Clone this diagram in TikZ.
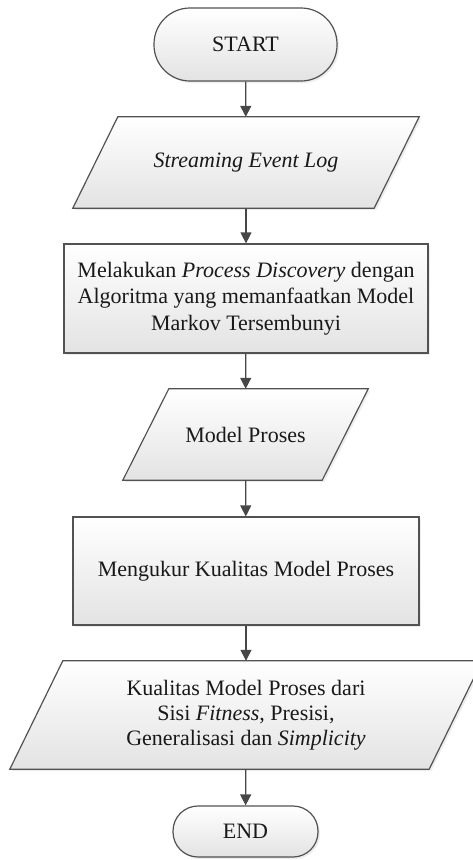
\documentclass[tikz,border=0pt]{standalone}
\usepackage{fontspec}
\setmainfont{Liberation Serif}
\usetikzlibrary{arrows.meta,calc,shadows,backgrounds}

\begin{document}
\begin{tikzpicture}[x=1pt,y=-1pt,
  every node/.style={font=\fontsize{22}{26.5}\selectfont, text=black!90, align=center, inner sep=0pt},
  boxfill/.style={draw=black!68, line width=1.2pt, top color=white, bottom color=black!11,
    drop shadow={opacity=0.14, shadow xshift=2pt, shadow yshift=-2pt}},
  terminal/.style={boxfill, rectangle, rounded corners=#1},
  process/.style={boxfill, rectangle},
  iobox/.style={rectangle},
  flow/.style={draw=black!72, line width=1.3pt, -{Triangle[length=11pt,width=11pt]}}
]
\useasboundingbox (0,0) rectangle (472,860);

% terminals and process boxes
\node[terminal=36pt, minimum width=183pt, minimum height=73pt] (start) at (245.5,44.5) {START};
\node[iobox, minimum width=346pt, minimum height=91pt] (log) at (246,162.5) {\itshape Streaming Event Log};
\node[process, minimum width=364pt, minimum height=109pt] (disc) at (246,298.5)
  {Melakukan \textit{Process Discovery} dengan\\Algoritma yang memanfaatkan Model\\Markov Tersembunyi};
\node[iobox, minimum width=245pt, minimum height=91pt] (model) at (245.5,434.5) {Model Proses};
\node[process, minimum width=346pt, minimum height=108pt] (measure) at (246,571) {Mengukur Kualitas Model Proses};
\node[iobox, minimum width=472pt, minimum height=108pt] (quality) at (246,715)
  {\raisebox{11pt}{\begin{tabular}{@{}c@{}}Kualitas Model Proses dari\\[-1.5pt]Sisi \textit{Fitness}, Presisi,\\[-1.5pt]Generalisasi dan \textit{Simplicity}\end{tabular}}};
\node[terminal=25pt, minimum width=145pt, minimum height=51pt] (end) at (245.5,831.5) {END};

% parallelogram outlines for the data nodes
\begin{scope}[on background layer]
  \draw[boxfill] ($(log.north west)+(45,0)$) -- (log.north east) -- ($(log.south east)+(-45,0)$) -- (log.south west) -- cycle;
  \draw[boxfill] ($(model.north west)+(46,0)$) -- (model.north east) -- ($(model.south east)+(-46,0)$) -- (model.south west) -- cycle;
  \draw[boxfill] ($(quality.north west)+(53,0)$) -- (quality.north east) -- ($(quality.south east)+(-53,0)$) -- (quality.south west) -- cycle;
\end{scope}

% connectors
\draw[flow] (start) -- (log);
\draw[flow] (log) -- (disc);
\draw[flow] (disc) -- (model);
\draw[flow] (model) -- (measure);
\draw[flow] (measure) -- (quality);
\draw[flow] (quality) -- (end);
\end{tikzpicture}
\end{document}
